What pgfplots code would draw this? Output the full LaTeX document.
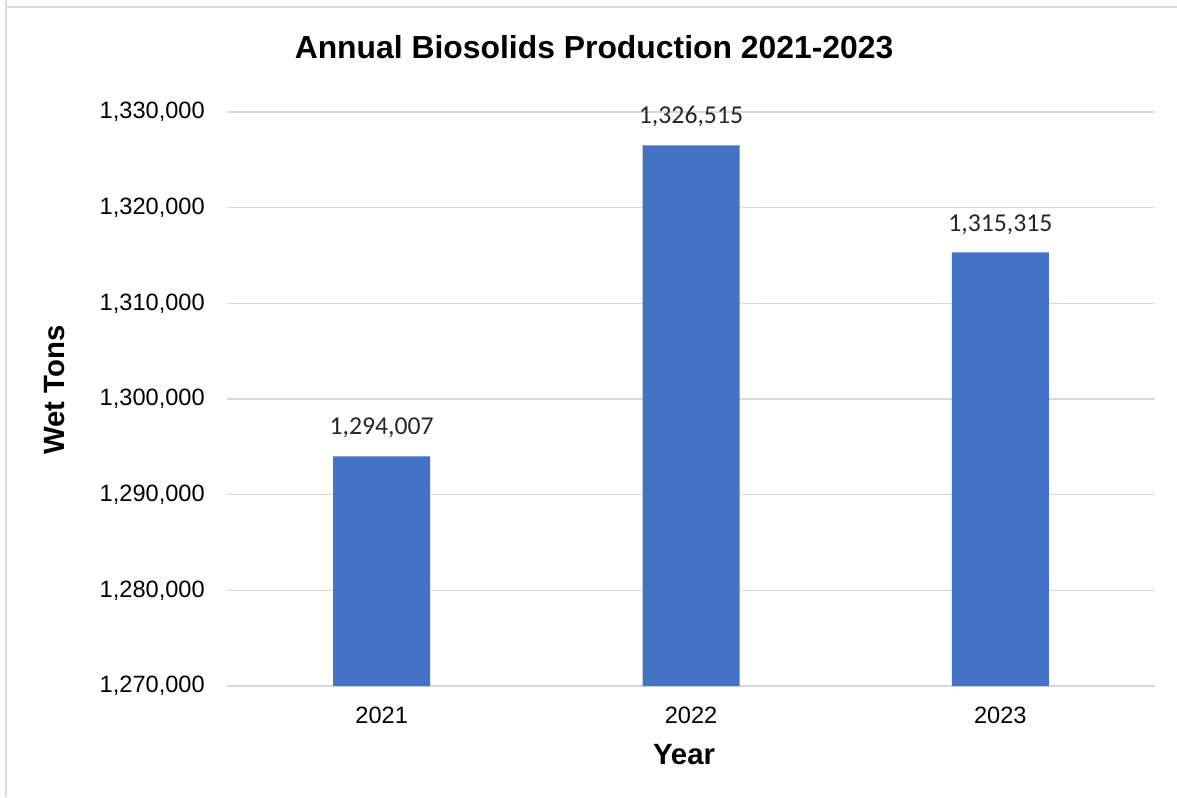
\documentclass[border=0pt]{standalone}
\usepackage{pgfplots}
\pgfplotsset{compat=1.18}
\usepackage{fontspec}
\setmainfont{Liberation Sans}
\newfontfamily\carlito{Carlito}
\definecolor{barblue}{HTML}{4472C4}
\definecolor{gridgray}{HTML}{D9D9D9}
\definecolor{lblgray}{HTML}{262626}
\begin{document}
\begin{tikzpicture}[x=1pt,y=1pt]
% page extent (1177x797 px at 0.75pt/px)
\path[use as bounding box] (0,0) rectangle (882.75,597.75);
\draw[gridgray, line width=1.5pt] (4.5,597.75) -- (4.5,592.5) -- (882.75,592.5);
\draw[gridgray, line width=1.5pt] (4.5,0) -- (4.5,592.5);
\begin{axis}[
  at={(170.25pt,83.25pt)}, anchor=south west,
  scale only axis, width=696pt, height=430.5pt,
  ybar, bar width=72.75pt,
  xmin=-0.5, xmax=2.5,
  ymin=1270000, ymax=1330000,
  xtick={0,1,2}, xticklabels={2021,2022,2023},
  ytick={1270000,1280000,1290000,1300000,1310000,1320000,1330000},
  scaled y ticks=false,
  /pgf/number format/.cd, fixed, precision=0, 1000 sep={,}, assume math mode=true,
  /pgfplots/.cd,
  axis line style={draw=none},
  major tick length=0pt,
  ymajorgrids, grid style={gridgray, line width=0.9pt},
  tick label style={font=\fontsize{17.7}{20}\selectfont, text=black},
  yticklabel style={anchor=east, inner sep=0pt, xshift=-16.5pt},
  xticklabel style={anchor=north, inner sep=0pt, yshift=-15.4pt},
  nodes near coords,
  every node near coord/.append style={font=\carlito\fontsize{19.3}{22}\selectfont, text=lblgray, anchor=south, inner sep=0pt, yshift=13.4pt},
  clip=false,
]
\addplot[fill=barblue, draw=none] coordinates {(0,1294007) (1,1326515) (2,1315315)};
\node[font=\bfseries\fontsize{23.9}{28}\selectfont] at (axis description cs:0.3955,1.113) {Annual Biosolids Production 2021-2023};
\node[font=\bfseries\fontsize{22}{26}\selectfont] at (axis description cs:0.4925,-0.120) {Year};
\node[font=\bfseries\fontsize{22}{26}\selectfont, rotate=90] at (axis description cs:-0.1853,0.5157) {Wet Tons};
\end{axis}
\end{tikzpicture}
\end{document}
